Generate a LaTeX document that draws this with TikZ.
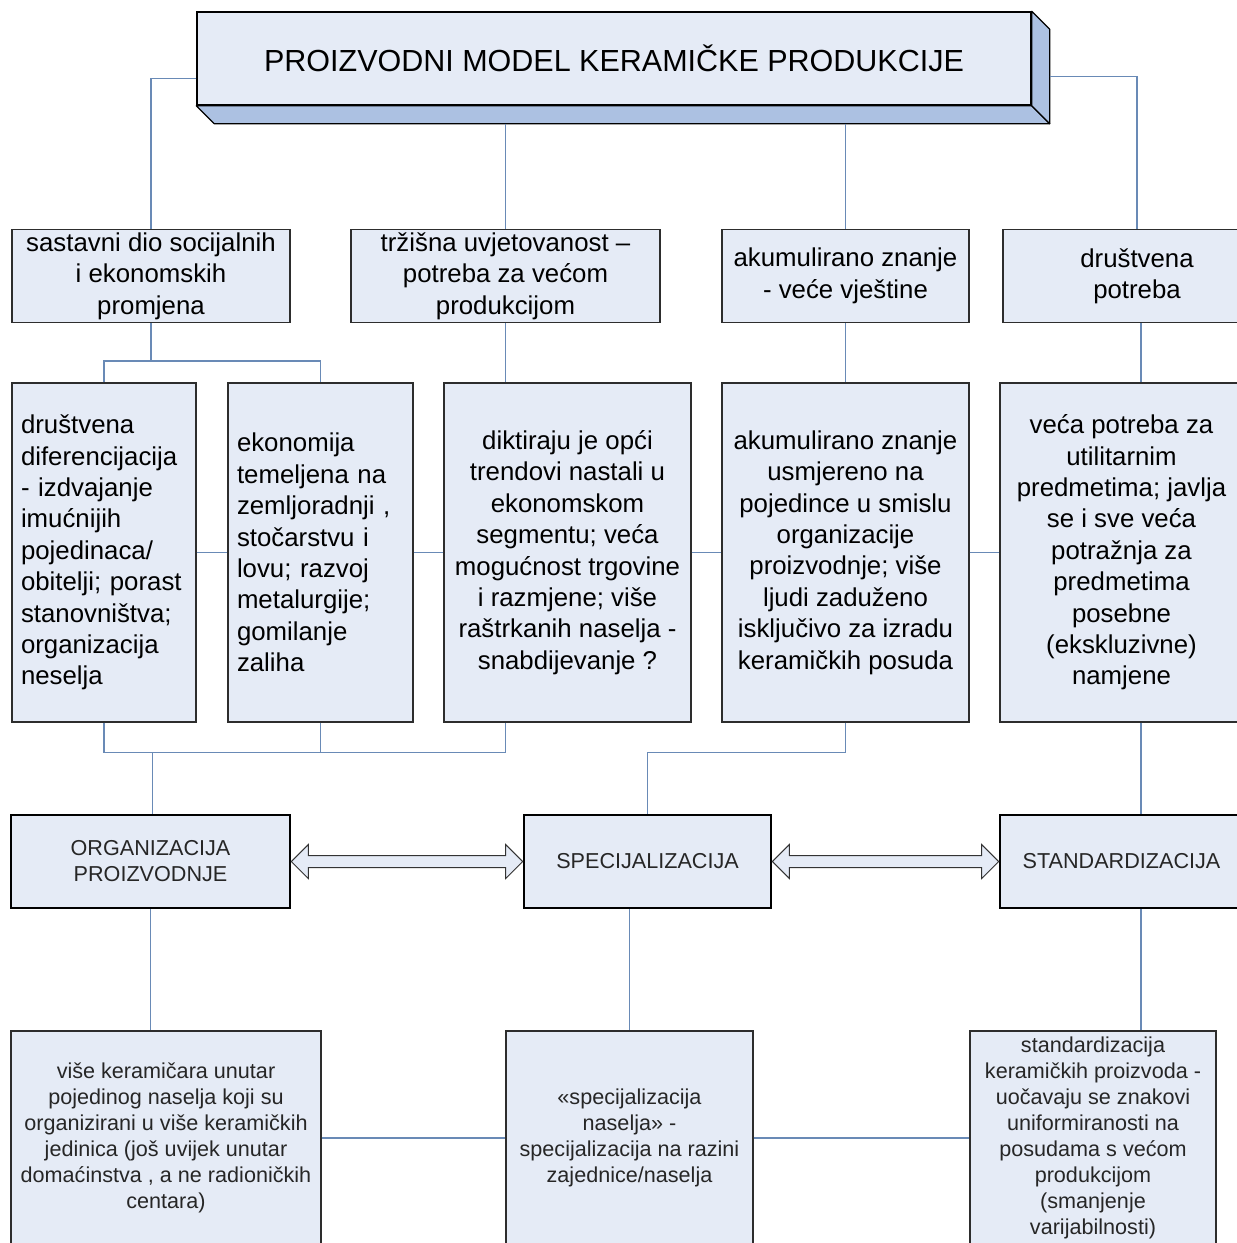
\documentclass[tikz,border=0pt]{standalone}
\usepackage{fontspec}
\setmainfont{Liberation Sans}
\usetikzlibrary{calc}
\definecolor{boxfill}{RGB}{229,235,246}
\definecolor{facefill}{RGB}{172,193,226}
\definecolor{linkcol}{RGB}{105,138,182}
\definecolor{boxdraw}{RGB}{45,45,45}
\begin{document}
\begin{tikzpicture}[x=1pt,y=-1pt,
  box/.style={draw=boxdraw, line width=1.2pt, fill=boxfill, inner sep=0pt, align=center,
    minimum height=93pt, font=\fontsize{25.8}{31.4}\selectfont},
  tallbox/.style={box, minimum height=339pt},
  leftbox/.style={tallbox, align=left, inner xsep=9pt},
  keybox/.style={draw=black, line width=2.6pt, fill=boxfill, inner sep=0pt, align=center,
    minimum height=93pt, text=black!85, font=\fontsize{21.6}{26}\selectfont},
  lowbox/.style={draw=boxdraw, line width=1.2pt, fill=boxfill, inner sep=0pt, align=center,
    minimum height=214pt, text=black!85, font=\fontsize{21.6}{26}\selectfont},
  link/.style={draw=linkcol, line width=1.3pt},
  dblarrow/.style={draw=black!80, line width=1pt, fill=boxfill, line join=miter}
]
\useasboundingbox (0,0) rectangle (1237,1243);
\fill[white] (0,0) rectangle (1237,1243);
\clip (0,0) rectangle (1237,1243);

% title 3D box
\node[draw=black, line width=1.4pt, fill=boxfill, minimum width=834pt, minimum height=93pt,
  inner sep=0pt, font=\fontsize{30.5}{36}\selectfont] (title) at (614,58.5)
  {PROIZVODNI MODEL KERAMIČKE PRODUKCIJE};
\filldraw[draw=black, line width=1.2pt, fill=facefill, line join=round]
  (title.south west) -- (title.south east) -- ++(18,18) -- ($(title.south west)+(18,18)$) -- cycle;
\filldraw[draw=black, line width=1.2pt, fill=facefill, line join=round]
  (title.north east) -- ++(18,18) -- ($(title.south east)+(18,18)$) -- (title.south east) -- cycle;
\coordinate (tr) at ($(title.east)+(18,18)$);
\coordinate (tb) at ($(title.south)+(0,18)$);

% level 2
\node[box, minimum width=278pt] (A) at (151,276) {sastavni dio socijalnih\\i ekonomskih\\promjena};
\node[box, minimum width=309pt] (B) at (505.5,276) {tržišna uvjetovanost –\\potreba za većom\\produkcijom};
\node[box, minimum width=247pt] (C) at (845.5,276) {akumulirano znanje\\- veće vještine};
\node[box, minimum width=268pt] (D) at (1137,276) {društvena\\potreba};

% level 3
\node[leftbox, text width=166pt] (E) at (104,552.5) {društvena\\diferencijacija\\- izdvajanje\\imućnijih\\pojedinaca/\\obitelji; porast\\stanovništva;\\organizacija\\neselja};
\node[leftbox, text width=167pt] (F) at (320.5,552.5) {ekonomija\\temeljena na\\zemljoradnji ,\\stočarstvu i\\lovu; razvoj\\metalurgije;\\gomilanje\\zaliha};
\node[tallbox, minimum width=247pt] (G) at (567.5,552.5) {diktiraju je opći\\trendovi nastali u\\ekonomskom\\segmentu; veća\\mogućnost trgovine\\i razmjene; više\\raštrkanih naselja -\\snabdijevanje ?};
\node[tallbox, minimum width=247pt] (H) at (845.5,552.5) {akumulirano znanje\\usmjereno na\\pojedince u smislu\\organizacije\\proizvodnje; više\\ljudi zaduženo\\isključivo za izradu\\keramičkih posuda};
\node[tallbox, minimum width=243pt] (I) at (1121.5,552.5) {veća potreba za\\utilitarnim\\predmetima; javlja\\se i sve veća\\potražnja za\\predmetima\\posebne\\(ekskluzivne)\\namjene};

% level 4
\node[keybox, minimum width=279pt] (org) at (150.5,861.5) {ORGANIZACIJA\\PROIZVODNJE};
\node[keybox, minimum width=247pt] (spec) at (647.5,861.5) {SPECIJALIZACIJA};
\node[keybox, minimum width=243pt] (stand) at (1121.5,861.5) {STANDARDIZACIJA};

% bottom
\node[lowbox, minimum width=310pt] (J) at (166,1138) {više keramičara unutar\\pojedinog naselja koji su\\organizirani u više keramičkih\\jedinica (još uvijek unutar\\domaćinstva , a ne radioničkih\\centara)};
\node[lowbox, minimum width=247pt] (K) at (629.5,1138) {«specijalizacija\\naselja» -\\specijalizacija na razini\\zajednice/naselja};
\node[lowbox, minimum width=246pt] (L) at (1093,1138) {standardizacija\\keramičkih proizvoda -\\uočavaju se znakovi\\uniformiranosti na\\posudama s većom\\produkcijom\\(smanjenje\\varijabilnosti)};

% connectors from title
\draw[link] ([yshift=-20pt]title.west) -| (A.north);
\draw[link] (tr) -| (D.north);
\draw[link] (B.north |- tb) -- (B.north);
\draw[link] (C.north |- tb) -- (C.north);

% level 2 -> level 3
\coordinate (ab) at ($(A.south)+(0,38)$);
\draw[link] (A.south) -- (ab);
\draw[link] (E.north) -- (E.north |- ab) -- (F.north |- ab) -- (F.north);
\draw[link] (B.south) -- (B.south |- G.north);
\draw[link] (C.south) -- (H.north);
\coordinate (rc) at (1141,0);
\draw[link] (rc |- D.south) -- (rc |- I.north);

% level 3 side links
\draw[link] (E.east) -- (F.west);
\draw[link] (F.east) -- (G.west);
\draw[link] (G.east) -- (H.west);
\draw[link] (H.east) -- (I.west);

% level 3 -> level 4
\coordinate (m1) at ($(E.south)+(0,30)$);
\draw[link] (E.south) -- (m1) -- (m1 -| B.south) -- (B.south |- G.south);
\draw[link] (F.south) -- (F.south |- m1);
\draw[link] ([xshift=2pt]org.north |- m1) -- ([xshift=2pt]org.north);
\draw[link] (H.south) -- (H.south |- m1) -| (spec.north);
\draw[link] (rc |- I.south) -- (rc |- stand.north);

% level 4 -> bottom
\draw[link] (org.south) -- (org.south |- J.north);
\draw[link] (K.north |- spec.south) -- (K.north);
\draw[link] (rc |- stand.south) -- (rc |- L.north);
\draw[link] (J.east) -- (K.west);
\draw[link] (K.east) -- (L.west);

% double block arrows
\draw[dblarrow] (org.east) -- ++(17,-17) -- ++(0,11) -- ($(spec.west)+(-17,-6)$) -- ++(0,-11)
  -- (spec.west) -- ++(-17,17) -- ++(0,-11) -- ($(org.east)+(17,6)$) -- ++(0,11) -- cycle;
\draw[dblarrow] (spec.east) -- ++(17,-17) -- ++(0,11) -- ($(stand.west)+(-17,-6)$) -- ++(0,-11)
  -- (stand.west) -- ++(-17,17) -- ++(0,-11) -- ($(spec.east)+(17,6)$) -- ++(0,11) -- cycle;
\end{tikzpicture}
\end{document}
